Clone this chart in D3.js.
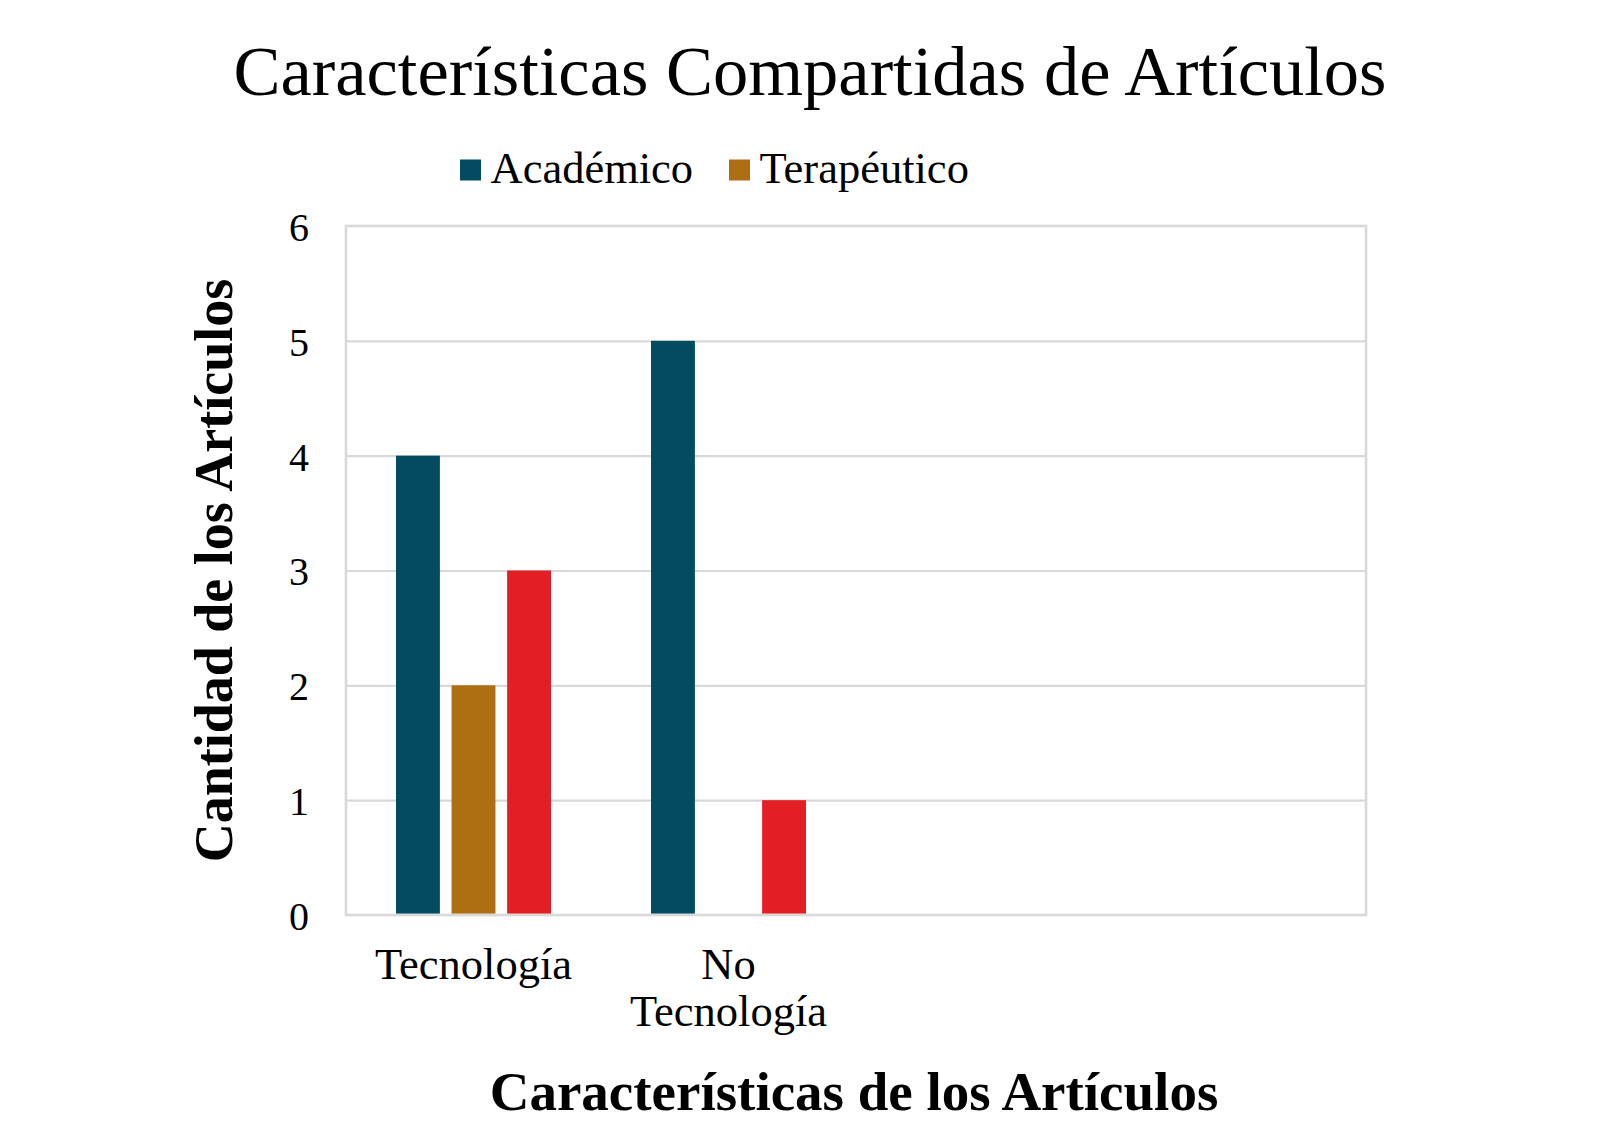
<!DOCTYPE html>
<html>
<head>
<meta charset="utf-8">
<script src="https://cdn.jsdelivr.net/npm/d3@7"></script>
<style>
  html, body { margin: 0; padding: 0; background: #ffffff; }
  svg { display: block; }
  text { font-family: "Liberation Serif", "Times New Roman", serif; fill: #000; }
</style>
</head>
<body>
<svg id="chart" width="1623" height="1138"></svg>
<script>
// ---- data ----
const title = "Características Compartidas de Artículos";
const xTitle = "Características de los Artículos";
const yTitle = "Cantidad de los Artículos";
const categories = ["Tecnología", "No Tecnología", "", ""];
const seriesNames = ["Académico", "Terapéutico", ""]; // third series has no legend entry
const academico = [4, 5, null, null];
const terapeutico = [2, 0, null, null];
const tercera = [3, 1, null, null];
const yTicks = [0, 1, 2, 3, 4, 5, 6];
const colors = ["#024b61", "#ae6e12", "#e31e25"];

const seriesValues = [academico, terapeutico, tercera];

// ---- layout ----
const plot = { left: 346, right: 1366, top: 226, bottom: 915 };

const svg = d3.select("#chart");

const x0 = d3.scaleBand()
  .domain(d3.range(categories.length))
  .range([plot.left, plot.right])
  .paddingInner(0).paddingOuter(0);

const x1 = d3.scaleBand()
  .domain(d3.range(seriesNames.length))
  .range([0, x0.bandwidth()])
  .paddingInner(0.21).paddingOuter(0.9);

const y = d3.scaleLinear().domain([0, 6]).range([plot.bottom, plot.top]);

// gridlines
const grid = svg.append("g")
  .attr("transform", `translate(${plot.left},0)`)
  .call(d3.axisLeft(y).tickValues(yTicks.filter(t => t > 0 && t < 6))
    .tickSize(-(plot.right - plot.left)).tickFormat(""));
grid.select(".domain").remove();
grid.selectAll(".tick line").attr("stroke", "#d9d9d9").attr("stroke-width", 2.2);

// bars
const rows = [];
seriesValues.forEach((vals, s) => {
  vals.forEach((v, c) => {
    if (v !== null && v > 0) rows.push({ s, c, v });
  });
});
svg.append("g").selectAll("rect")
  .data(rows)
  .join("rect")
  .attr("x", d => x0(d.c) + x1(d.s))
  .attr("width", x1.bandwidth())
  .attr("y", d => y(d.v))
  .attr("height", d => y(0) - y(d.v) - 1.2)
  .attr("fill", d => colors[d.s]);

// plot border
svg.append("rect")
  .attr("x", plot.left).attr("y", y(6))
  .attr("width", plot.right - plot.left)
  .attr("height", y(0) - y(6))
  .attr("fill", "none")
  .attr("stroke", "#d9d9d9")
  .attr("stroke-width", 2.7);

// y axis labels
const yAxis = svg.append("g")
  .attr("transform", `translate(${plot.left},0)`)
  .call(d3.axisLeft(y).tickValues(yTicks).tickSize(0).tickPadding(37).tickFormat(d3.format("d")));
yAxis.select(".domain").remove();
yAxis.selectAll(".tick text")
  .attr("font-family", "Liberation Serif")
  .attr("font-size", 40)
  .attr("dy", "0.36em")
  .attr("fill", "#000");

// x axis labels
const xAxis = svg.append("g")
  .attr("transform", `translate(0,${plot.bottom})`)
  .call(d3.axisBottom(x0).tickSize(0).tickFormat(""));
xAxis.select(".domain").remove();
xAxis.selectAll(".tick").each(function(d) {
  const lines = categories[d] ? categories[d].split(" ") : [];
  const t = d3.select(this).append("text")
    .attr("text-anchor", "middle")
    .attr("font-size", 44.5)
    .attr("fill", "#000")
    .attr("y", 64);
  lines.forEach((ln, i) => {
    t.append("tspan").attr("x", 0).attr("y", 64 + i * 47).text(ln);
  });
});

// title
svg.append("text")
  .attr("x", 810).attr("y", 95)
  .attr("text-anchor", "middle")
  .attr("font-size", 70.5)
  .text(title);

// legend (only series with names)
const legendX = [460, 729];
const leg = svg.append("g");
seriesNames.forEach((name, i) => {
  if (!name) return;
  const g = leg.append("g").attr("transform", `translate(${legendX[i]},0)`);
  g.append("rect").attr("x", 0).attr("y", 159.5).attr("width", 21).attr("height", 21).attr("fill", colors[i]);
  g.append("text").attr("x", 30.5).attr("y", 183).attr("font-size", 44.5).text(name);
});

// axis titles
svg.append("text")
  .attr("x", (plot.left + plot.right) / 2 - 2).attr("y", 1110)
  .attr("text-anchor", "middle")
  .attr("font-size", 55)
  .attr("font-weight", "bold")
  .text(xTitle);

svg.append("text")
  .attr("transform", `translate(232,${(plot.top + plot.bottom) / 2}) rotate(-90)`)
  .attr("text-anchor", "middle")
  .attr("font-size", 54)
  .attr("font-weight", "bold")
  .text(yTitle);
</script>
</body>
</html>
